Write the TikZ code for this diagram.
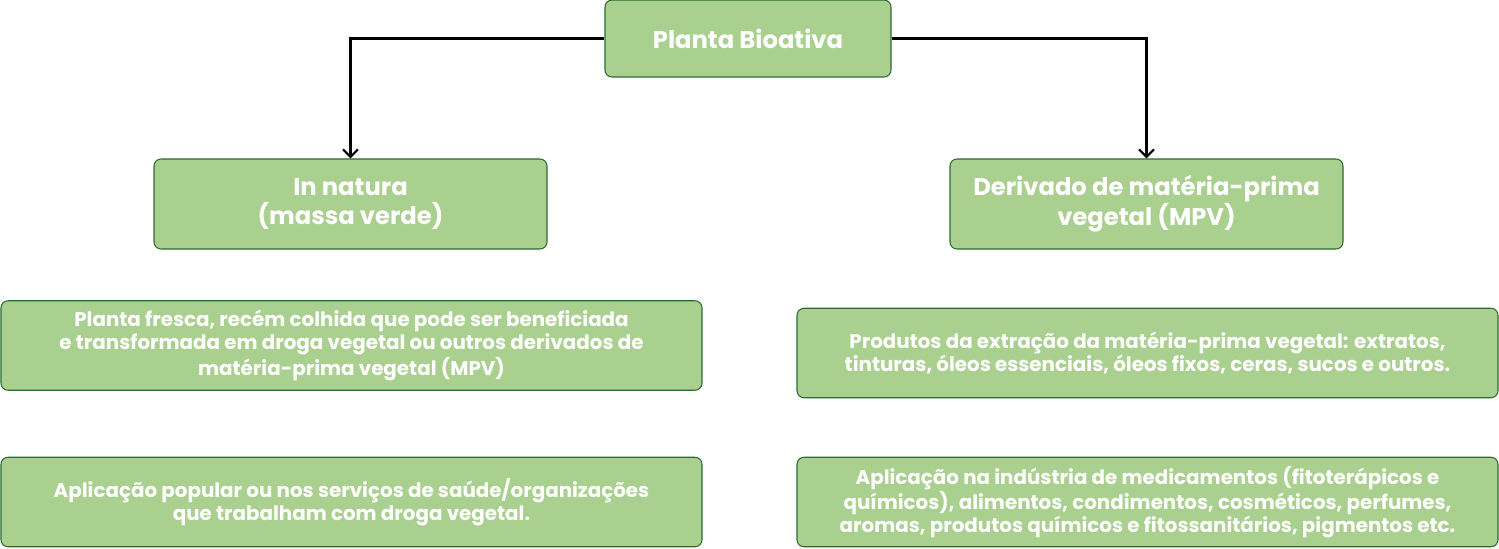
\documentclass[tikz,border=0pt]{standalone}
\usepackage{fontspec}
\setmainfont{Poppins}
\usepackage{tikz}
\usetikzlibrary{arrows.meta,positioning}
\definecolor{leafgreen}{HTML}{A9D08E}
\definecolor{darkleaf}{HTML}{2B6A33}

\begin{document}
\begin{tikzpicture}[
  font=\bfseries,
  box/.style={draw=darkleaf,fill=leafgreen,rounded corners=4pt,line width=0.6pt,
    align=center,text=white,inner sep=2pt},
  headbox/.style={box,font=\bfseries\fontsize{13.8}{17}\selectfont,
    minimum width=7.86cm,minimum height=1.80cm},
  infobox/.style={box,font=\bfseries\fontsize{11.3}{13}\selectfont,
    minimum width=14.02cm,minimum height=1.79cm},
  flow/.style={-{Straight Barb[length=1.5mm,width=3mm]},line width=1.2pt,draw=black}
]
  \useasboundingbox (0,0) rectangle (29.98,10.96);

  \node[box,font=\bfseries\fontsize{13.8}{17}\selectfont,
    minimum width=5.72cm,minimum height=1.54cm] (planta) at (14.96,10.19)
    {Planta Bioativa};

  \node[headbox] (natura) at (7.01,6.88) {In natura\\(massa verde)};
  \node[headbox] (derivado) at (22.93,6.88)
    {Derivado de matéria-prima\\vegetal (MPV)};

  \draw[flow] (planta.west) -| (natura.north);
  \draw[flow] (planta.east) -| (derivado.north);

  \node[infobox] (fresca) at (7.03,4.05)
    {Planta fresca, recém colhida que pode ser beneficiada\\
     e transformada em droga vegetal ou outros derivados de\\
     matéria-prima vegetal (MPV)};
  \node[infobox] (popular) at (7.03,0.92)
    {Aplicação popular ou nos serviços de saúde/organizações\\
     que trabalham com droga vegetal.};

  \node[infobox] (produtos) at (22.95,3.90)
    {Produtos da extração da matéria-prima vegetal: extratos,\\
     tinturas, óleos essenciais, óleos fixos, ceras, sucos e outros.};
  \node[infobox] (industria) at (22.95,0.92)
    {Aplicação na indústria de medicamentos (fitoterápicos e\\
     químicos), alimentos, condimentos, cosméticos, perfumes,\\
     aromas, produtos químicos e fitossanitários, pigmentos etc.};
\end{tikzpicture}
\end{document}
